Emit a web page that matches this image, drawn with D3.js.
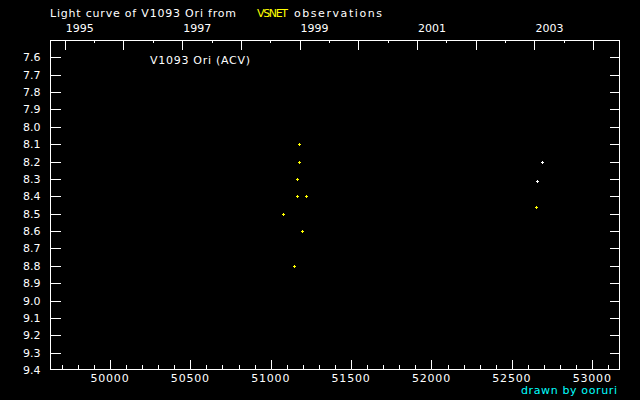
<!DOCTYPE html>
<html><head><meta charset="utf-8">
<script src="https://cdn.jsdelivr.net/npm/d3@7"></script>
<style>html,body{margin:0;padding:0;background:#000;}svg{display:block;}</style>
</head><body>
<svg id="c" width="640" height="400"></svg>
<script>
// Data (JD - 2400000, visual magnitude)
const yellowJD  = [51178, 51178, 51166, 51166, 51222, 51078, 51196, 51146, 52653];
const yellowMag = [8.10, 8.20, 8.30, 8.40, 8.40, 8.50, 8.60, 8.80, 8.46];
const whiteJD   = [52690, 52659];
const whiteMag  = [8.20, 8.31];
const magTicks  = [7.6,7.7,7.8,7.9,8.0,8.1,8.2,8.3,8.4,8.5,8.6,8.7,8.8,8.9,9.0,9.1,9.2,9.3,9.4];
const jdMajor   = [50000,50500,51000,51500,52000,52500,53000];
const years     = [1995,1996,1997,1998,1999,2000,2001,2002,2003,2004];
const yearLabels= [1995,1997,1999,2001,2003];

const svg = d3.select("#c");
svg.append("rect").attr("width",640).attr("height",400).attr("fill","#000");
const L=50,R=620,T=40,B=370;
const x = d3.scaleLinear().domain([49627,53173]).range([L,R]);
const y = d3.scaleLinear().domain([7.5,9.4]).range([T,B]);
const font = "DejaVu Sans, sans-serif";
const jdOf = yr => Date.UTC(yr,0,1)/86400000 + 2440587.5 - 2400000;

const g = svg.append("g").attr("shape-rendering","crispEdges").attr("stroke","#fff").attr("stroke-width",1);
g.append("rect").attr("x",L+0.5).attr("y",T+0.5).attr("width",R-L-1).attr("height",B-T-1).attr("fill","none");

// left/right mag ticks
magTicks.forEach(m=>{
  const yy = Math.round(y(m))+0.5;
  if (m < 9.4) {
    g.append("line").attr("x1",L).attr("x2",L+11).attr("y1",yy).attr("y2",yy);
    g.append("line").attr("x1",R-10).attr("x2",R).attr("y1",yy).attr("y2",yy);
  }
});
svg.selectAll("text.ml").data(magTicks).enter().append("text")
  .attr("x",40.5).attr("y",d=>y(d)+4).attr("text-anchor","end")
  .attr("fill","#fff").attr("font-family",font).attr("font-size",11)
  .text(d=>d.toFixed(1));

// bottom JD ticks
const jdMinor = d3.range(49700, 53173, 100).filter(v=>v%500!==0);
jdMinor.forEach(v=>{const xx=Math.round(x(v))+0.5;
  g.append("line").attr("x1",xx).attr("x2",xx).attr("y1",B-5).attr("y2",B);});
jdMajor.forEach(v=>{const xx=Math.round(x(v))+0.5;
  g.append("line").attr("x1",xx).attr("x2",xx).attr("y1",B-10).attr("y2",B);});
svg.selectAll("text.jd").data(jdMajor).enter().append("text")
  .attr("x",d=>x(d)).attr("y",382).attr("text-anchor","middle")
  .attr("fill","#fff").attr("font-family",font).attr("font-size",11)
  .attr("letter-spacing",0.8).text(d=>d);

// top year ticks
years.forEach(yr=>{
  const xx=Math.round(x(jdOf(yr)))+0.5;
  g.append("line").attr("x1",xx).attr("x2",xx).attr("y1",T).attr("y2",T+10);
  const mid=(jdOf(yr)+jdOf(yr+1))/2;
  if (x(mid)<R) { const xm=Math.round(x(mid))+0.5;
    g.append("line").attr("x1",xm).attr("x2",xm).attr("y1",T).attr("y2",T+3);}
});
svg.selectAll("text.yr").data(yearLabels).enter().append("text")
  .attr("x",d=>x(jdOf(d))+1).attr("y",32).attr("text-anchor","start")
  .attr("fill","#fff").attr("font-family",font).attr("font-size",11).text(d=>d);

// title and labels
const t = svg.append("g").attr("font-family",font).attr("font-size",11);
function txt(s,x0,y0,len,col){
  t.append("text").attr("x",x0).attr("y",y0).attr("fill",col)
   .attr("textLength",len).attr("lengthAdjust","spacing").text(s);
}
txt("Light curve of V1093 Ori from",50,17,186,"#fff");
txt("VSNET",257,17,31,"#ffff00");
txt("observations",294,17,88,"#fff");
txt("V1093 Ori (ACV)",150,64,100,"#fff");
txt("drawn by ooruri",521,394,96,"#00ffff");

// points as small plus signs
function plus(jd, mag, color){
  const pts = jd.map((d,i)=>[d,mag[i]]);
  svg.append("g").attr("shape-rendering","crispEdges").selectAll("path").data(pts).enter().append("path")
    .attr("d",d=>{const cx=Math.round(x(d[0])), cy=Math.round(y(d[1]));
      return `M${cx-1},${cy}h3v1h-3z M${cx},${cy-1}h1v3h-1z`;})
    .attr("fill",color);
}
plus(yellowJD, yellowMag, "#ffff00");
plus(whiteJD, whiteMag, "#ffffff");
</script>
</body></html>
